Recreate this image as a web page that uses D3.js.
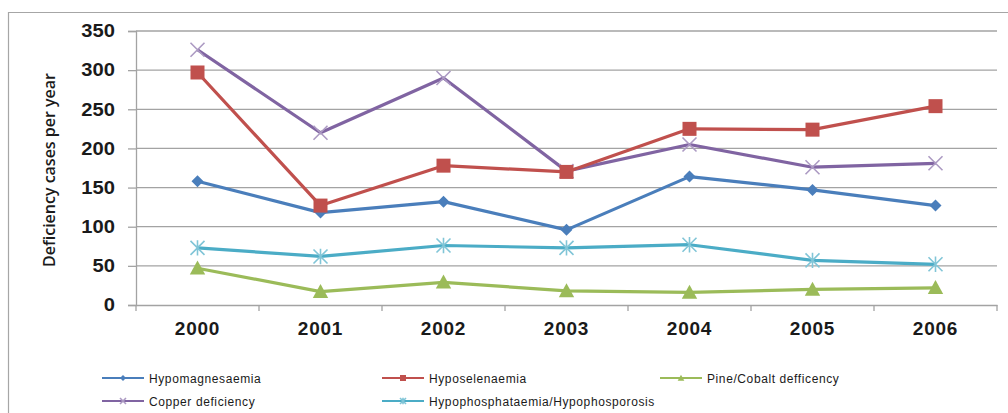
<!DOCTYPE html>
<html>
<head>
<meta charset="utf-8">
<script src="https://cdn.jsdelivr.net/npm/d3@7"></script>
<style>
  html, body { margin: 0; padding: 0; background: #fff; }
  svg { display: block; }
</style>
</head>
<body>
<svg id="chart" width="1008" height="413"></svg>
<script>
// Yearly deficiency case counts, 2000–2006
const years = ["2000", "2001", "2002", "2003", "2004", "2005", "2006"];
const yTicks = [0, 50, 100, 150, 200, 250, 300, 350];

const hypomagnesaemia = [158, 118, 132, 96, 164, 147, 127];
const hyposelenaemia  = [297, 127, 178, 170, 225, 224, 254];
const pineCobalt      = [47, 17, 29, 18, 16, 20, 22];
const copper          = [326, 220, 290, 171, 205, 176, 181];
const hypophosphataemia = [73, 62, 76, 73, 77, 57, 52];

const seriesNames = [
  "Hypomagnesaemia", "Hyposelenaemia", "Pine/Cobalt defficency",
  "Copper deficiency", "Hypophosphataemia/Hypophosporosis"
];

const series = [
  { name: seriesNames[0], values: hypomagnesaemia,  color: "#4a7ebb", marker: "diamond" },
  { name: seriesNames[1], values: hyposelenaemia,   color: "#c0504d", marker: "square" },
  { name: seriesNames[2], values: pineCobalt,       color: "#9bbb59", marker: "triangle" },
  { name: seriesNames[3], values: copper,           color: "#8064a2", marker: "x" },
  { name: seriesNames[4], values: hypophosphataemia, color: "#4bacc6", marker: "star" }
];

const svg = d3.select("#chart");

// outer chart frame (top and left edges visible)
svg.append("path")
  .attr("d", "M8.5,413 L8.5,12.5 L1008,12.5")
  .attr("fill", "none").attr("stroke", "#a6a6a6").attr("stroke-width", 1.2);

const plot = { left: 136, right: 997, top: 31, bottom: 305 };

const x = d3.scaleBand().domain(years).range([plot.left, plot.right]);
const y = d3.scaleLinear().domain([0, 350]).range([plot.bottom, plot.top]);
const cx = d => x(d) + x.bandwidth() / 2;

// horizontal gridlines
svg.append("g").selectAll("line").data(yTicks.filter(t => t > 0)).join("line")
  .attr("x1", plot.left).attr("x2", plot.right)
  .attr("y1", d => y(d)).attr("y2", d => y(d))
  .attr("stroke", "#a3a3a3").attr("stroke-width", 1.3);

// y axis
const yAxis = svg.append("g")
  .attr("transform", `translate(${plot.left},0)`)
  .call(d3.axisLeft(y).tickValues(yTicks).tickSize(8).tickPadding(13));
yAxis.select(".domain").attr("stroke", "#a3a3a3").attr("stroke-width", 1.3);
yAxis.selectAll(".tick line").attr("stroke", "#a3a3a3").attr("stroke-width", 1.3);
yAxis.selectAll(".tick text")
  .attr("font-family", "Liberation Sans, Arial, sans-serif")
  .attr("font-size", 18).attr("font-weight", "bold").attr("fill", "#1a1a1a")
  .attr("transform", "scale(1.12,1)").attr("text-anchor", "end")
  .attr("x", -21 / 1.12);

// x axis: baseline and category boundary ticks
const xAxis = svg.append("g")
  .attr("transform", `translate(0,${plot.bottom})`)
  .call(d3.axisBottom(x).tickSize(0).tickPadding(17));
xAxis.select(".domain").attr("stroke", "#a3a3a3").attr("stroke-width", 1.3);
xAxis.selectAll(".tick text")
  .attr("font-family", "Liberation Sans, Arial, sans-serif")
  .attr("font-size", 19).attr("font-weight", "bold").attr("fill", "#1a1a1a")
  .attr("letter-spacing", 0.8);
const boundaries = years.map(d => x(d)).concat([plot.right]);
xAxis.append("g").selectAll("line").data(boundaries).join("line")
  .attr("x1", d => d).attr("x2", d => d)
  .attr("y1", 0).attr("y2", 6)
  .attr("stroke", "#a3a3a3").attr("stroke-width", 1.3);

// y axis title
svg.append("text")
  .attr("transform", `translate(55,170) rotate(-90)`)
  .attr("text-anchor", "middle")
  .attr("font-family", "Open Sans, sans-serif")
  .attr("font-size", 15.5).attr("font-weight", 600).attr("fill", "#1a1a1a")
  .attr("textLength", 194).attr("lengthAdjust", "spacingAndGlyphs")
  .text("Deficiency cases per year");

// marker shapes
function drawMarker(g, type, color, size) {
  const s = size;
  if (type === "diamond") {
    g.append("path").attr("d", `M0,${-s/2} L${s/2},0 L0,${s/2} L${-s/2},0Z`).attr("fill", color);
  } else if (type === "square") {
    g.append("rect").attr("x", -s/2).attr("y", -s/2).attr("width", s).attr("height", s).attr("fill", color);
  } else if (type === "triangle") {
    g.append("path").attr("d", `M0,${-s*0.55} L${s*0.55},${s*0.45} L${-s*0.55},${s*0.45}Z`).attr("fill", color);
  } else if (type === "x") {
    const h = s / 2;
    g.append("path").attr("d", `M${-h},${-h} L${h},${h} M${-h},${h} L${h},${-h}`)
      .attr("stroke", d3.interpolateRgb(color, "#fff")(0.35)).attr("stroke-width", 1.6).attr("fill", "none");
  } else if (type === "star") {
    const h = s / 2;
    g.append("path").attr("d", `M${-h},${-h} L${h},${h} M${-h},${h} L${h},${-h} M0,${-h*1.1} L0,${h*1.1}`)
      .attr("stroke", d3.interpolateRgb(color, "#fff")(0.3)).attr("stroke-width", 1.6).attr("fill", "none");
  }
}

const markerSize = { diamond: 12, square: 14, triangle: 14, x: 14, star: 14 };

const line = d3.line().x(d => cx(d.year)).y(d => y(d.value));

// draw in back-to-front order
const drawOrder = [4, 2, 0, 3, 1];
drawOrder.forEach(i => {
  const s = series[i];
  const pts = years.map((yr, j) => ({ year: yr, value: s.values[j] }));
  const g = svg.append("g");
  g.append("path").datum(pts)
    .attr("d", line).attr("fill", "none")
    .attr("stroke", s.color).attr("stroke-width", 3.2)
    .attr("stroke-linejoin", "round");
  pts.forEach(p => {
    const m = g.append("g").attr("transform", `translate(${cx(p.year)},${y(p.value)})`);
    drawMarker(m, s.marker, s.color, markerSize[s.marker]);
  });
});

// legend
const legendPos = [
  { x: 102, y: 378 }, { x: 382, y: 378 }, { x: 660, y: 378 },
  { x: 102, y: 401 }, { x: 382, y: 401 }
];
series.forEach((s, i) => {
  const p = legendPos[i];
  const g = svg.append("g").attr("transform", `translate(${p.x},${p.y})`);
  g.append("line").attr("x1", 0).attr("x2", 42).attr("y1", 0).attr("y2", 0)
    .attr("stroke", s.color).attr("stroke-width", 2);
  const m = g.append("g").attr("transform", "translate(21,0)");
  drawMarker(m, s.marker, s.color, 6);
  g.append("text")
    .attr("x", 47).attr("y", 4.5)
    .attr("font-family", "Liberation Sans, Arial, sans-serif")
    .attr("font-size", 12).attr("letter-spacing", 0.6).attr("fill", "#1a1a1a")
    .text(s.name);
});
</script>
</body>
</html>
